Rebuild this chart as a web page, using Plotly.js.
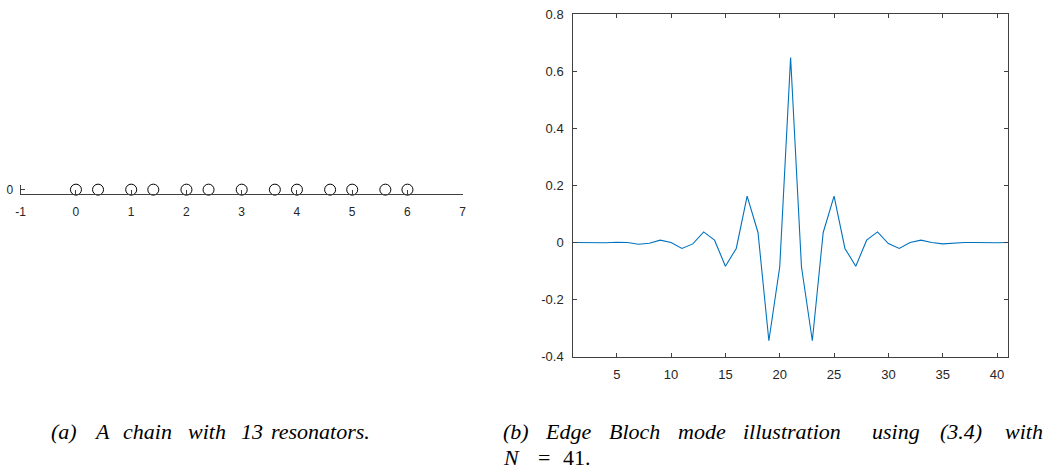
<!DOCTYPE html>
<html>
<head>
<meta charset="utf-8">
<script src="https://cdn.plot.ly/plotly-3.0.1.min.js"></script>
<style>
html,body{margin:0;padding:0;background:#fff;}
#chart{width:1051px;height:470px;}
</style>
</head>
<body>
<div id="chart"></div>
<script>
// ---- Data ----
// (a) resonator positions on the chain
const resonatorX = [0, 0.4, 1, 1.4, 2, 2.4, 3, 3.6, 4, 4.6, 5, 5.6, 6];
const resonatorY = [0, 0, 0, 0, 0, 0, 0, 0, 0, 0, 0, 0, 0];
const chainXTicks = [-1, 0, 1, 2, 3, 4, 5, 6, 7];
const chainXTickText = ['-1', '0', '1', '2', '3', '4', '5', '6', '7'];
const chainYTicks = [-1, 0, 1];
const chainYTickText = ['', '0', ''];

// (b) edge Bloch mode, N = 41
const modeIndex = [1,2,3,4,5,6,7,8,9,10,11,12,13,14,15,16,17,18,19,20,21,
                   22,23,24,25,26,27,28,29,30,31,32,33,34,35,36,37,38,39,40,41];
const modeValue = [0, -0.001, -0.002, -0.001, 0.001, 0, -0.006, -0.003, 0.008, 0,
                   -0.021, -0.005, 0.037, 0.008, -0.083, -0.021, 0.162, 0.035, -0.344, -0.085,
                   0.648,
                   -0.085, -0.344, 0.035, 0.162, -0.021, -0.083, 0.008, 0.037, -0.004,
                   -0.021, 0, 0.008, 0, -0.005, -0.002, 0, 0, -0.001, -0.001, 0];
const modeXTicks = [5, 10, 15, 20, 25, 30, 35, 40];
const modeXTickText = ['5', '10', '15', '20', '25', '30', '35', '40'];
const modeYTicks = [-0.4, -0.2, 0, 0.2, 0.4, 0.6, 0.8];
const modeYTickText = ['-0.4', '-0.2', '0', '0.2', '0.4', '0.6', '0.8'];

// captions (words of each line)
const captionAWords = ['(a)', 'A', 'chain', 'with', '13', 'resonators.'];
const captionB1Words = ['(b)', 'Edge', 'Bloch', 'mode', 'illustration', 'using', '(3.4)', 'with'];
const captionB2Words = ['<i>N</i>', '=', '41.'];

// ---- Layout (pixel -> paper) ----
const W = 1051, H = 470;
const px = v => v / W;
const py = v => (H - v) / H;

const axisColor = '#404040';
const tickFont = {family: 'Liberation Sans, Arial, sans-serif', size: 13, color: '#262626'};
const capFont = {family: 'Liberation Serif, Times New Roman, serif', size: 22, color: '#000'};

// justified word starts (pixels), as laid out in the caption
const captionAStarts = [50, 93, 122, 187, 240, 270];
const captionB1Starts = [502, 544, 608, 677, 742, 871, 939, 1004];
const captionB2Starts = [502, 537, 562];

function wordAnnotations(words, starts, centerY, italic) {
  return words.map((w, i) => ({
    text: italic ? '<i>' + w + '</i>' : w,
    xref: 'paper', yref: 'paper', x: px(starts[i]), y: py(centerY),
    xanchor: 'left', yanchor: 'middle', showarrow: false,
    font: capFont, borderpad: 0
  }));
}

const traces = [
  {
    x: resonatorX, y: resonatorY, type: 'scatter', mode: 'markers',
    marker: {symbol: 'circle-open', size: 11, color: '#000', line: {width: 1, color: '#000'}},
    xaxis: 'x', yaxis: 'y', cliponaxis: false
  },
  {
    x: modeIndex, y: modeValue, type: 'scatter', mode: 'lines',
    line: {color: '#0072BD', width: 1.1},
    xaxis: 'x2', yaxis: 'y2'
  }
];

const layout = {
  width: W, height: H,
  margin: {l: 0, r: 0, t: 0, b: 0},
  paper_bgcolor: '#fff', plot_bgcolor: 'rgba(0,0,0,0)',
  showlegend: false,
  xaxis: {
    domain: [px(20.7), px(462.7)], anchor: 'y',
    range: [-1, 7], tickmode: 'array', tickvals: chainXTicks, ticktext: chainXTickText,
    ticks: 'inside', ticklen: 4, tickcolor: axisColor, tickwidth: 1,
    showline: true, linecolor: axisColor, linewidth: 1,
    showgrid: false, zeroline: false,
    tickfont: {family: tickFont.family, size: 12, color: tickFont.color},
    ticklabelstandoff: 6
  },
  yaxis: {
    domain: [py(194.3), py(185)], anchor: 'x',
    range: [-1, 1], tickmode: 'array', tickvals: chainYTicks, ticktext: chainYTickText,
    ticks: 'inside', ticklen: 4, tickcolor: axisColor, tickwidth: 1,
    showline: true, linecolor: axisColor, linewidth: 1,
    showgrid: false, zeroline: false,
    tickfont: {family: tickFont.family, size: 12, color: tickFont.color},
    ticklabelstandoff: 4
  },
  xaxis2: {
    domain: [px(573.3), px(1007.9)], anchor: 'y2',
    range: [1, 41], tickmode: 'array', tickvals: modeXTicks, ticktext: modeXTickText,
    ticks: 'inside', ticklen: 4, tickcolor: axisColor, tickwidth: 1,
    showline: true, linecolor: axisColor, linewidth: 1, mirror: 'ticks',
    showgrid: false, zeroline: false,
    tickfont: tickFont, ticklabelstandoff: 6
  },
  yaxis2: {
    domain: [py(356.7), py(14)], anchor: 'x2',
    range: [-0.4, 0.8], tickmode: 'array', tickvals: modeYTicks, ticktext: modeYTickText,
    ticks: 'inside', ticklen: 4, tickcolor: axisColor, tickwidth: 1,
    showline: true, linecolor: axisColor, linewidth: 1, mirror: 'ticks',
    showgrid: false, zeroline: false,
    tickfont: tickFont, ticklabelstandoff: 6
  },
  annotations: [].concat(
    wordAnnotations(captionAWords, captionAStarts, 431, true),
    wordAnnotations(captionB1Words, captionB1Starts, 431, true),
    wordAnnotations(captionB2Words, captionB2Starts, 457, false)
  )
};

Plotly.newPlot('chart', traces, layout, {displayModeBar: false, staticPlot: true});
</script>
</body>
</html>
